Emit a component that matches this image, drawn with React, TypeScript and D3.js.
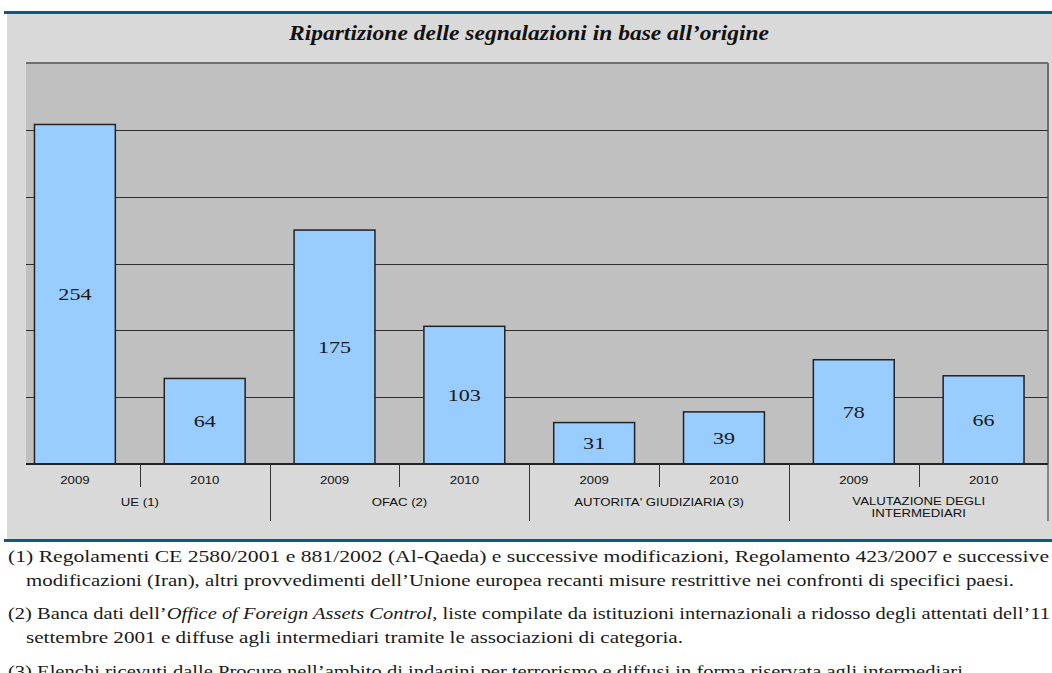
import React from "react";
import * as d3 from "d3";

// chart values
const years = ["2009", "2010"];
const groups = [
  ["UE (1)"],
  ["OFAC (2)"],
  ["AUTORITA' GIUDIZIARIA (3)"],
  ["VALUTAZIONE DEGLI", "INTERMEDIARI"],
];
const values = [254, 64, 175, 103, 31, 39, 78, 66];
const gridTicks = [50, 100, 150, 200, 250];

const title = "Ripartizione delle segnalazioni in base all\u2019origine";

const serif = "Liberation Serif, DejaVu Serif, serif";
const sans = "Liberation Sans, Arial, sans-serif";

function App() {
  const width = 1052;
  const height = 673;

  const plot = { left: 26, right: 1048, top: 63, bottom: 464 };

  const bars = values.map((v, i) => ({
    key: i,
    value: v,
    year: years[i % years.length],
    group: Math.floor(i / years.length),
  }));

  // the category axis starts a bit left of the visible plot area
  const x = d3
    .scaleBand()
    .domain(bars.map((d) => String(d.key)))
    .range([10, 1048.5])
    .paddingInner(0.377)
    .paddingOuter(0.1885);

  const y = d3.scaleLinear().domain([0, 300]).range([plot.bottom, plot.top]);

  const step = x.step();
  const bandStart = (i) => x(String(i)) - x.paddingOuter() * step;

  return (
    <svg
      width={width}
      height={height}
      style={{ position: "absolute", left: 0, top: 0, background: "#ffffff" }}
    >
      {/* grey panel */}
      <rect x={7} y={13} width={width - 7} height={527} fill="#d9d9d9" />
      <rect x={4} y={11} width={width - 4} height={3} fill="#0d5a80" />
      <rect x={4} y={539} width={width - 4} height={3} fill="#0d5a80" />

      <text
        x={529}
        y={40}
        textAnchor="middle"
        fontFamily={serif}
        fontWeight="bold"
        fontStyle="italic"
        fontSize="22px"
        fill="#111"
        textLength={480}
        lengthAdjust="spacingAndGlyphs"
      >
        {title}
      </text>

      {/* plot area */}
      <rect
        x={plot.left}
        y={plot.top}
        width={plot.right - plot.left}
        height={plot.bottom - plot.top}
        fill="#c0c0c0"
      />
      <line
        x1={plot.left}
        x2={plot.right}
        y1={plot.top}
        y2={plot.top}
        stroke="#6e6e6e"
        strokeWidth={2}
      />
      <line
        x1={plot.right}
        x2={plot.right}
        y1={plot.top}
        y2={plot.bottom}
        stroke="#6e6e6e"
        strokeWidth={2}
      />
      {gridTicks.map((t) => (
        <line
          key={t}
          x1={plot.left}
          x2={plot.right}
          y1={Math.round(y(t)) + 0.5}
          y2={Math.round(y(t)) + 0.5}
          stroke="#2e2e2e"
          strokeWidth={1}
        />
      ))}

      {bars.map((d) => (
        <g key={d.key}>
          <rect
            x={x(String(d.key))}
            y={y(d.value)}
            width={x.bandwidth()}
            height={plot.bottom - y(d.value)}
            fill="#99ccff"
            stroke="#222"
            strokeWidth={1.5}
          />
          <text
            transform={`translate(${x(String(d.key)) + x.bandwidth() / 2},${
              (y(d.value) + plot.bottom) / 2 + 6
            }) scale(1.3,1)`}
            textAnchor="middle"
            fontFamily={serif}
            fontSize="17px"
            fill="#1a1a1a"
          >
            {d.value}
          </text>
        </g>
      ))}

      <line
        x1={plot.left}
        x2={plot.right}
        y1={plot.bottom}
        y2={plot.bottom}
        stroke="#222"
        strokeWidth={2}
      />

      {/* category axis: years */}
      {bars.map((d) => (
        <text
          key={"y" + d.key}
          transform={`translate(${x(String(d.key)) + x.bandwidth() / 2},484) scale(1.2,1)`}
          textAnchor="middle"
          fontFamily={sans}
          fontSize="11px"
          fill="#111"
        >
          {d.year}
        </text>
      ))}
      {bars
        .filter((d) => d.key % years.length === 1)
        .map((d) => (
          <line
            key={"t" + d.key}
            x1={Math.round(bandStart(d.key)) + 0.5}
            x2={Math.round(bandStart(d.key)) + 0.5}
            y1={plot.bottom}
            y2={487}
            stroke="#333"
          />
        ))}
      {groups.map((lines, g) => {
        const x0 = bandStart(g * years.length);
        const x1 = x0 + step * years.length;
        return (
          <g key={"g" + g}>
            <line
              x1={Math.min(Math.round(x1) + 0.5, plot.right)}
              x2={Math.min(Math.round(x1) + 0.5, plot.right)}
              y1={plot.bottom}
              y2={521}
              stroke="#333"
            />
            {lines.map((l, j) => (
              <text
                key={j}
                transform={`translate(${(x0 + x1) / 2},${
                  506 + j * 12 - (lines.length - 1) * 1
                }) scale(1.2,1)`}
                textAnchor="middle"
                fontFamily={sans}
                fontSize="11px"
                fill="#111"
              >
                {l}
              </text>
            ))}
          </g>
        );
      })}

      {/* notes */}
      <g fontFamily={serif} fontSize="17px" fill="#1a1a1a">
        <text x={8} y={562} textLength={1041} lengthAdjust="spacingAndGlyphs">
          (1) Regolamenti CE 2580/2001 e 881/2002 (Al-Qaeda) e successive
          modificazioni, Regolamento 423/2007 e successive
        </text>
        <text x={26} y={586} textLength={988} lengthAdjust="spacingAndGlyphs">
          modificazioni (Iran), altri provvedimenti dell{"\u2019"}Unione europea
          recanti misure restrittive nei confronti di specifici paesi.
        </text>
        <text x={8} y={619} textLength={1042} lengthAdjust="spacingAndGlyphs">
          (2) Banca dati dell{"\u2019"}
          <tspan fontStyle="italic">Office of Foreign Assets Control,</tspan>{" "}
          liste compilate da istituzioni internazionali a ridosso degli
          attentati dell{"\u2019"}11
        </text>
        <text x={26} y={643} textLength={657} lengthAdjust="spacingAndGlyphs">
          settembre 2001 e diffuse agli intermediari tramite le associazioni di
          categoria.
        </text>
        <text x={8} y={677} textLength={960} lengthAdjust="spacingAndGlyphs">
          (3) Elenchi ricevuti dalle Procure nell{"\u2019"}ambito di indagini per
          terrorismo e diffusi in forma riservata agli intermediari.
        </text>
      </g>
    </svg>
  );
}

export default App;
